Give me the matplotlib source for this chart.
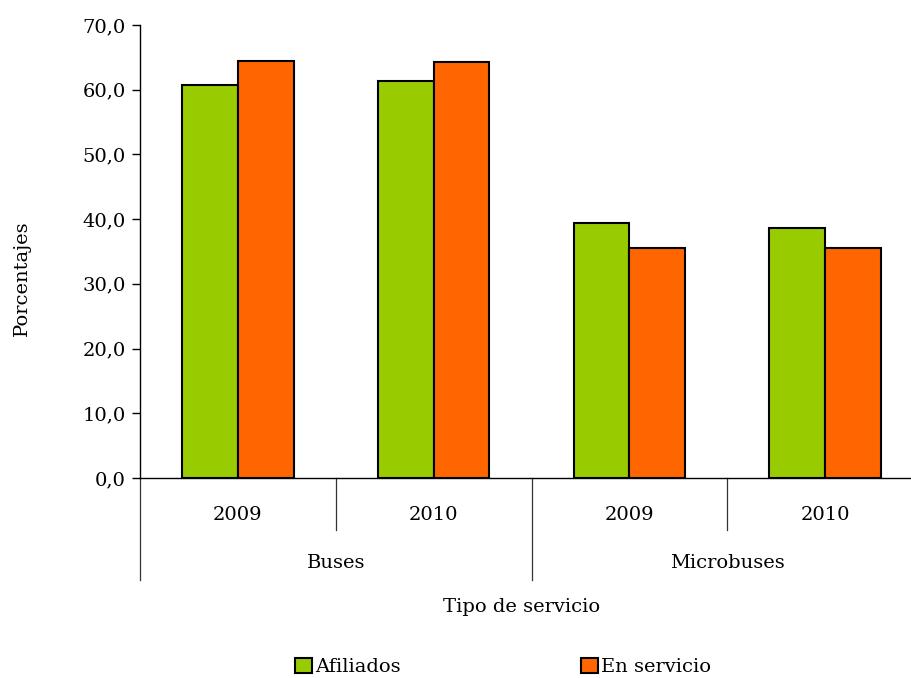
import matplotlib.pyplot as plt
import matplotlib.transforms as mtransforms
from matplotlib.patches import Patch
import numpy as np

# datos
grupos = ["Buses", "Microbuses"]
anios = ["2009", "2010", "2009", "2010"]
afiliados = [60.7, 61.3, 39.4, 38.6]
en_servicio = [64.4, 64.3, 35.5, 35.5]
series = ["Afiliados", "En servicio"]
yticks = [0, 10, 20, 30, 40, 50, 60, 70]

verde = "#99CC00"
naranja = "#FF6600"

plt.rcParams["font.family"] = ["DejaVu Serif"]
fs = 14

fig = plt.figure(figsize=(9.11, 6.78), dpi=100)
W, H = 911, 678
ax = fig.add_axes([140 / W, (H - 478) / H, (923 - 140) / W, (478 - 25) / H])

x = np.arange(len(anios))
w = 0.285
ax.bar(x - w / 2, afiliados, w, color=verde, edgecolor="black", linewidth=1.5, zorder=3)
ax.bar(x + w / 2, en_servicio, w, color=naranja, edgecolor="black", linewidth=1.5, zorder=3)

ax.set_xlim(-0.5, len(anios) - 0.5)
ax.set_ylim(0, 70)
ax.set_yticks(yticks)
ax.set_yticklabels([f"{v:.1f}".replace(".", ",") for v in yticks], fontsize=fs)
ax.tick_params(axis="y", direction="out", length=6, width=1, pad=4)
ax.set_xticks([])

for s in ["top", "right"]:
    ax.spines[s].set_visible(False)
ax.spines["left"].set_linewidth(1)
ax.spines["bottom"].set_linewidth(1)

# etiquetas jerarquicas del eje x
trans = mtransforms.blended_transform_factory(ax.transData, ax.transAxes)
for i, a in enumerate(anios):
    ax.text(i, -0.082, a, transform=trans, ha="center", va="center", fontsize=fs)
for i in [0.5, 2.5]:
    ax.plot([i, i], [0, -0.115], transform=trans, color="#333333", lw=0.9, clip_on=False)
for i in [-0.5, 1.5]:
    ax.plot([i, i], [0, -0.225], transform=trans, color="#333333", lw=0.9, clip_on=False)
for j, g in enumerate(grupos):
    ax.text(2 * j + 0.5, -0.188, g, transform=trans, ha="center", va="center", fontsize=fs)

fig.text(((140 + 923) / 2 - 10) / W, 1 - 607 / H, "Tipo de servicio", ha="center", va="center", fontsize=fs)
fig.text(22 / W, 1 - 278 / H, "Porcentajes", rotation=90, ha="center", va="center", fontsize=fs)

handles = [Patch(facecolor=verde, edgecolor="black", linewidth=1.5),
           Patch(facecolor=naranja, edgecolor="black", linewidth=1.5)]
fig.legend(handles, series, loc="center", bbox_to_anchor=(503 / W, 1 - 667 / H), ncol=2,
           frameon=False, fontsize=fs, handlelength=0.85, handleheight=0.85,
           handletextpad=0.15, columnspacing=9.3)

fig.savefig("out.png", dpi=100)
